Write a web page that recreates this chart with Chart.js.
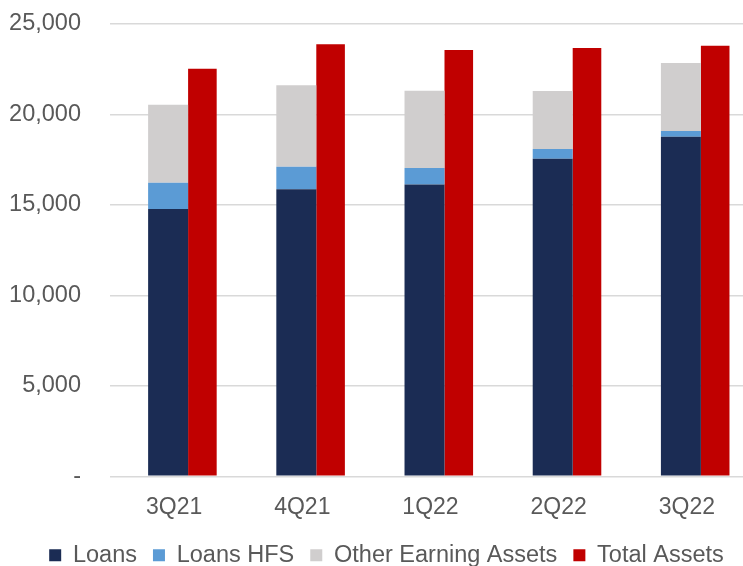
<!DOCTYPE html>
<html>
<head>
<meta charset="utf-8">
<script src="https://cdn.jsdelivr.net/npm/chart.js@4/dist/chart.umd.min.js"></script>
<style>
  html, body { margin: 0; padding: 0; background: #fff; overflow: hidden; }
  #wrap { position: relative; width: 743px; height: 566px; overflow: hidden; }
  canvas { display: block; }
</style>
</head>
<body>
<div id="wrap"><canvas id="c" width="764" height="577"></canvas></div>
<script>
// Quarter-end balances ($ millions)
const quarters = ['3Q21', '4Q21', '1Q22', '2Q22', '3Q22'];
const loans = [14780, 15860, 16130, 17550, 18770];
const loansHFS = [1440, 1250, 910, 540, 310];
const otherEarningAssets = [4320, 4500, 4270, 3200, 3760];
const totalAssets = [22530, 23880, 23560, 23670, 23800];
const yTickLabels = ['-', '5,000', '10,000', '15,000', '20,000', '25,000'];

const FONT = 'Liberation Sans, Arial, sans-serif';
const TEXT = '#595959';

// The earning-asset stack sits just left of the category centre, the
// narrower total-assets column just right of it.
const stackBar = { stack: 'earning', categoryPercentage: 0.1871, barPercentage: 3.333 };
const totalBar = { stack: 'total', categoryPercentage: 0.8827, barPercentage: 0.5053 };

new Chart(document.getElementById('c'), {
  type: 'bar',
  data: {
    labels: quarters,
    datasets: [
      Object.assign({ label: 'Loans', data: loans, backgroundColor: '#1b2c54' }, stackBar),
      Object.assign({ label: 'Loans HFS', data: loansHFS, backgroundColor: '#5b9bd5' }, stackBar),
      Object.assign({ label: 'Other Earning Assets', data: otherEarningAssets, backgroundColor: '#d0cece' }, stackBar),
      Object.assign({ label: 'Total Assets', data: totalAssets, backgroundColor: '#c00000' }, totalBar)
    ]
  },
  options: {
    responsive: false,
    animation: false,
    devicePixelRatio: 1,
    layout: { padding: { left: 9, right: 0, top: 24, bottom: 0 } },
    plugins: {
      tooltip: { enabled: false },
      legend: {
        position: 'bottom',
        labels: {
          boxWidth: 12,
          boxHeight: 12,
          padding: 16,
          color: TEXT,
          font: { family: FONT, size: 23.5 }
        }
      }
    },
    scales: {
      x: {
        stacked: true,
        afterFit: (scale) => { scale.height = 51.25; },
        grid: { display: false, drawTicks: false },
        border: { display: false },
        ticks: { color: TEXT, font: { family: FONT, size: 23, lineHeight: 1.743 }, padding: 11, maxRotation: 0 }
      },
      y: {
        stacked: true,
        min: 0,
        max: 25000,
        afterFit: (scale) => { scale.width = 101; },
        grid: { color: '#d9d9d9', lineWidth: 1.5, drawTicks: true, tickLength: 29, tickColor: 'rgba(0,0,0,0)' },
        border: { display: false },
        ticks: {
          stepSize: 5000,
          padding: 0,
          color: TEXT,
          font: { family: FONT, size: 23.5 },
          callback: (value, index) => yTickLabels[index]
        }
      },
      // empty right-hand strip so the plot runs past the visible edge
      yRight: {
        position: 'right',
        afterFit: (scale) => { scale.width = 13; },
        grid: { display: false, drawTicks: false },
        border: { display: false },
        ticks: { display: false }
      }
    }
  }
});
</script>
</body>
</html>
